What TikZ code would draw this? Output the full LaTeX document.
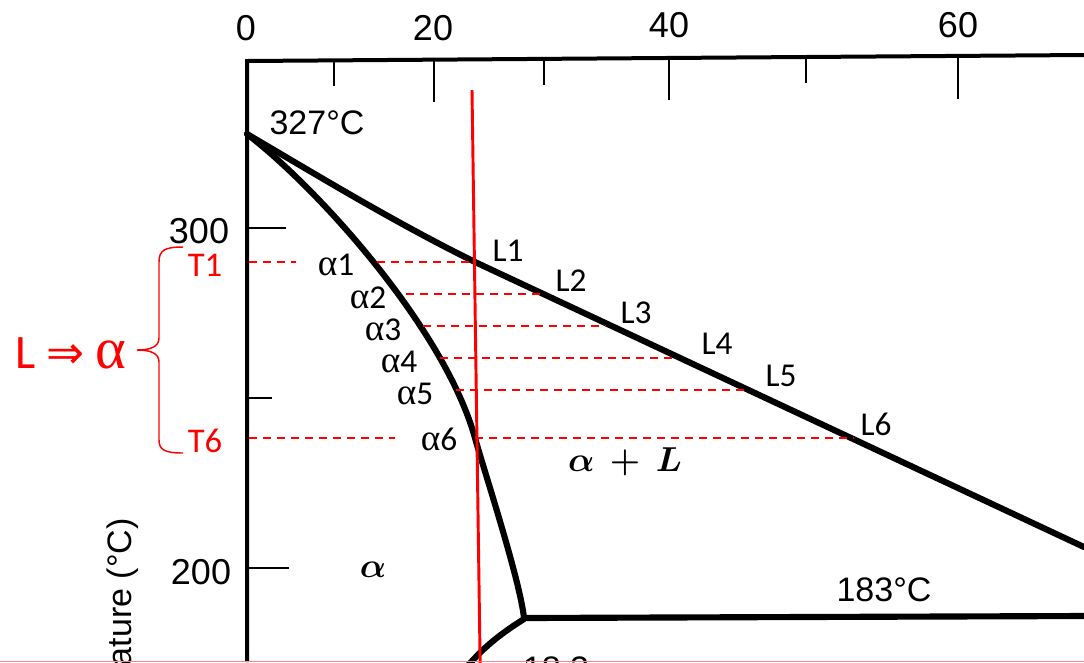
\documentclass[tikz,border=0pt]{standalone}
\usepackage{fix-cm}
\usepackage{fontspec}
\setmainfont{Liberation Sans}
\newfontfamily\calfont{Carlito}
\newfontfamily\grfont{Liberation Serif}
\newfontfamily\djfont{DejaVu Sans}
\begin{document}
\begin{tikzpicture}[x=0.75pt,y=-0.75pt,
  axisline/.style={line width=3pt},
  tickline/.style={line width=2.2pt},
  phaseline/.style={line width=4.6pt, line join=round, line cap=round},
  redline/.style={red, line width=2.2pt},
  guide/.style={red, line width=1.1pt, dash pattern=on 6pt off 4.5pt},
  num/.style={font=\fontsize{27}{27}\selectfont, inner sep=0pt},
  temp/.style={font=\fontsize{25.5}{25.5}\selectfont, inner sep=0pt},
  lab/.style={font=\calfont\fontsize{25}{25}\selectfont, inner sep=0pt},
  alab/.style={lab, text height=15pt, text depth=0pt},
  redlab/.style={lab, font=\calfont\fontsize{26}{26}\selectfont, text=red},
  region/.style={font=\fontsize{26}{26}\selectfont\boldmath, inner sep=0pt}]
\useasboundingbox (0,0) rectangle (1084,662);
\clip (0,0) rectangle (1084,662);
% axes
\draw[axisline] (247,662) -- (247,61) -- (1084,55);
% top ticks
\draw[tickline] (334,60.4) -- (334,86);
\draw[tickline] (434,59.7) -- (434,102);
\draw[tickline] (544,58.9) -- (544,85);
\draw[tickline] (669,58.0) -- (669,100);
\draw[tickline] (806,57.0) -- (806,83);
\draw[tickline] (958,55.9) -- (958,99);
% left ticks
\draw[tickline] (247,228) -- (286,228);
\draw[tickline] (247,398) -- (272,398);
\draw[tickline] (247,568) -- (289,568);
% axis numbers
\node[num] (x0) at (246,28) {0};
\node[num] (x20) at (433,28) {20};
\node[num] (x40) at (669,25) {40};
\node[num] (x60) at (958,25) {60};
\node[num] (y300) at (199,231) {300};
\node[num] (y200) at (201,572) {200};
\node[temp, rotate=90, anchor=east] (ylab) at (123,518) {ature (°C)};
\node[temp] (t327) at (317,123) {327°C};
\node[temp] (t183) at (884,590) {183°C};
\node[temp] (t183b) at (556,669) {18.3};
% phase boundaries
\draw[phaseline] (247,134) .. controls (330,183) and (400,225) .. (475,262) -- (1084,547);
\draw[phaseline] (247,134) .. controls (320,190) and (445,330) .. (475,438)
  .. controls (483,467) and (520,580) .. (524,618);
\draw[phaseline] (524,618) -- (1084,616);
\draw[phaseline] (524,619) .. controls (505,631) and (485,645) .. (466,668);
% composition line
\coordinate (rtop) at (472,90);
\coordinate (rbot) at (480.3,675);
\draw[redline] (rtop) -- (rbot);
% tie lines
\coordinate (a1) at (377,262); \coordinate (l1) at (475,262);
\coordinate (a2) at (406,294); \coordinate (l2) at (543,294);
\coordinate (a3) at (423,326); \coordinate (l3) at (606,326);
\coordinate (a4) at (440,358); \coordinate (l4) at (678,358);
\coordinate (a5) at (456,390); \coordinate (l5) at (746,390);
\coordinate (a6) at (475,438); \coordinate (l6) at (854,438);
\coordinate (ax1) at (249,262); \coordinate (ax1e) at (296,262);
\coordinate (ax6) at (249,438); \coordinate (ax6e) at (395,438);
\draw[guide] (ax1) -- (ax1e);
\draw[guide] (a1) -- (l1);
\draw[guide] (a2) -- (l2);
\draw[guide] (a3) -- (l3);
\draw[guide] (a4) -- (l4);
\draw[guide] (a5) -- (l5);
\draw[guide] (ax6) -- (ax6e);
\draw[guide] (a6) -- (l6);
% labels
\node[lab] (L1) at (508,251) {L1};
\node[lab] (L2) at (571,281) {L2};
\node[lab] (L3) at (636,313) {L3};
\node[lab] (L4) at (717,344) {L4};
\node[lab] (L5) at (781,376) {L5};
\node[lab] (L6) at (876,424) {L6};
\node[alab] (A1) at (336,265) {{\grfont\fontsize{28}{28}\selectfont α}1};
\node[alab] (A2) at (368,298) {{\grfont\fontsize{28}{28}\selectfont α}2};
\node[alab] (A3) at (383,330) {{\grfont\fontsize{28}{28}\selectfont α}3};
\node[alab] (A4) at (399,362) {{\grfont\fontsize{28}{28}\selectfont α}4};
\node[alab] (A5) at (415,394) {{\grfont\fontsize{28}{28}\selectfont α}5};
\node[alab] (A6) at (439,440) {{\grfont\fontsize{28}{28}\selectfont α}6};
\node[redlab] (T1) at (205,265) {T1};
\node[redlab] (T6) at (205,441) {T6};
\node[text=red, inner sep=0pt, font=\calfont\fontsize{36}{36}\selectfont] (LA) at (71,353)
  {L {\djfont\fontsize{34}{34}\selectfont ⇒} {\grfont\fontsize{44}{44}\selectfont α}};
\node[region] (AL) at (625,462) {$\alpha\,+\,L$};
\node[region] (AR) at (373,570) {$\alpha$};
% brace
\draw[red, line width=1.1pt] (183,247) .. controls (165,247) and (159,250) .. (159,262)
  -- (159,338) .. controls (159,347) and (150,350) .. (137,350)
  .. controls (150,350) and (159,353) .. (159,362)
  -- (159,440) .. controls (159,450) and (165,453) .. (183,453);
% bottom edge
\draw[color={rgb,255:red,236;green,140;blue,140}, line width=1pt] (0,661.5) -- (1084,661.5);
\end{tikzpicture}
\end{document}
